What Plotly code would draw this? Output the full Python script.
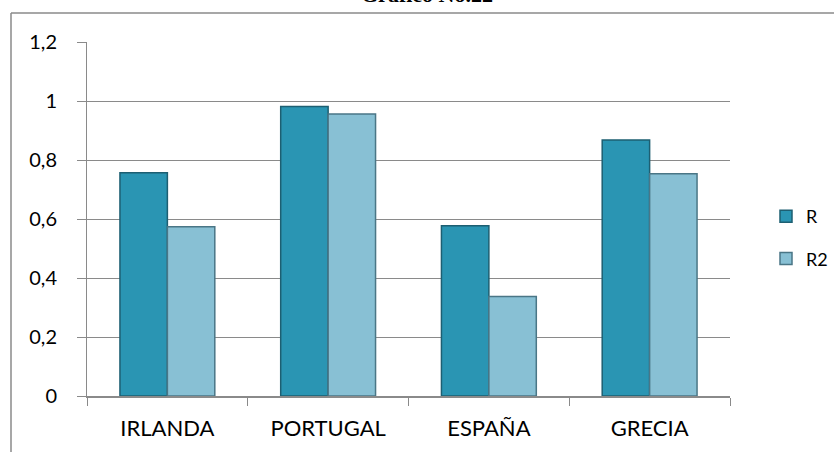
import plotly.graph_objs as go

countries = ['IRLANDA', 'PORTUGAL', 'ESPAÑA', 'GRECIA']
r_values = [0.757, 0.981, 0.577, 0.868]
r2_values = [0.574, 0.956, 0.337, 0.753]

W, H = 834, 452
# plot area in pixels
L, R, T, B = 87, 730, 42, 396


def px_x(p):
    return (p - L) / (R - L)


def px_y(p):
    return (B - p) / (B - T)


fig = go.Figure()

fig.add_trace(go.Bar(
    x=countries, y=r_values, name='R', legendgroup='R',
    marker=dict(color='#2a95b3', line=dict(color='#1d5f72', width=1.5))
))
fig.add_trace(go.Bar(
    x=countries, y=r2_values, name='R2', legendgroup='R2',
    marker=dict(color='#88c0d4', line=dict(color='#4a7686', width=1.5))
))

# outer chart frame (only top and left edges are visible)
fig.add_shape(type='line', xref='paper', yref='paper',
              x0=px_x(11), y0=px_y(13), x1=px_x(W + 5), y1=px_y(13),
              line=dict(color='#8a8a8a', width=1.5))
fig.add_shape(type='line', xref='paper', yref='paper',
              x0=px_x(11), y0=px_y(13), x1=px_x(11), y1=px_y(H + 5),
              line=dict(color='#8a8a8a', width=1.5))

# title, cut off by the top of the image like in the source
fig.add_annotation(text='<b>Gráfico No.22</b>', xref='paper', yref='paper',
                   x=px_x(427), y=px_y(9), xanchor='center', yanchor='bottom',
                   showarrow=False,
                   font=dict(family='Liberation Serif', size=22, color='black'))

fig.update_layout(
    width=W, height=H,
    margin=dict(l=L, r=W - R, t=T, b=H - B, autoexpand=False),
    paper_bgcolor='white',
    plot_bgcolor='white',
    separators=', ',
    bargap=0.41,
    bargroupgap=0,
    font=dict(family='Lato, Open Sans, sans-serif', size=20, color='black'),
    legend=dict(
        x=px_x(766), y=px_y(198), xanchor='left', yanchor='top',
        traceorder='grouped', tracegroupgap=16,
        font=dict(size=18), bgcolor='rgba(0,0,0,0)'
    ),
    showlegend=True
)

fig.update_yaxes(
    range=[0, 1.2], dtick=0.2,
    showgrid=True, gridcolor='#8a8a8a', gridwidth=1,
    showline=True, linecolor='#8a8a8a', linewidth=1,
    ticks='outside', ticklen=9, tickcolor='#8a8a8a',
    ticklabelstandoff=16, zeroline=False,
    tickfont=dict(size=20), automargin=False
)
fig.update_xaxes(
    showline=True, linecolor='#8a8a8a', linewidth=1.5,
    ticks='outside', tickson='boundaries', ticklen=8, tickcolor='#8a8a8a',
    showgrid=False, tickfont=dict(size=22), ticklabelstandoff=12,
    automargin=False
)

# drop the browser's default page margin so the figure sits at (0, 0)
fig.write_html('out.html', config={'displayModeBar': False},
               post_script="document.body.style.margin='0';")
